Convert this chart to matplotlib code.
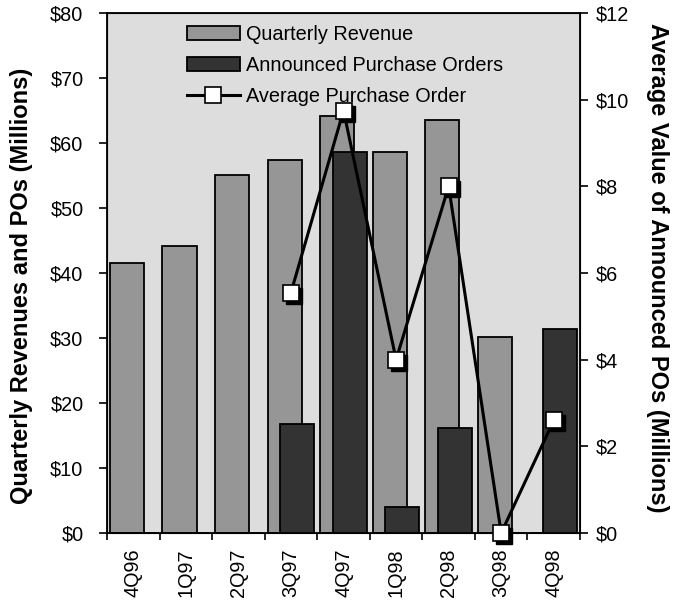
import matplotlib.pyplot as plt
import matplotlib.transforms as mtransforms
from matplotlib.ticker import FuncFormatter, FixedLocator, NullFormatter
import numpy as np

plt.rcParams['font.family'] = ['Liberation Sans', 'DejaVu Sans']

quarters = ['4Q96', '1Q97', '2Q97', '3Q97', '4Q97', '1Q98', '2Q98', '3Q98', '4Q98']
revenue = [41.5, 44.2, 55.1, 57.4, 64.2, 58.6, 63.5, 30.2, 0]
orders = [0, 0, 0, 16.8, 58.6, 4.0, 16.1, 0, 31.4]
avg_po_quarters = ['3Q97', '4Q97', '1Q98', '2Q98', '3Q98', '4Q98']
avg_po = [5.55, 9.75, 4.0, 8.0, 0.0, 2.6]

x = np.arange(len(quarters))
xa = np.array([quarters.index(q) for q in avg_po_quarters])

fig = plt.figure(figsize=(6.8, 6.02), dpi=100)
ax = fig.add_axes([0.1574, 0.1146, 0.6956, 0.8638])
ax.set_facecolor('#dddddd')

bw = 0.65
ax.bar(x - 0.12, revenue, bw, color='#969696', edgecolor='black', linewidth=1.3,
       label='Quarterly Revenue', zorder=2)
ax.bar(x + 0.12, orders, bw, color='#333333', edgecolor='black', linewidth=1.3,
       label='Announced Purchase Orders', zorder=3)
ax.set_xlim(-0.5, len(quarters) - 0.5)
ax.set_ylim(0, 80)
ax.set_yticks(range(0, 81, 10))
ax.yaxis.set_major_formatter(FuncFormatter(lambda v, p: f'${v:.0f}'))
ax.set_xticks(np.arange(-0.5, len(quarters), 1.0))
ax.xaxis.set_major_formatter(NullFormatter())
ax.xaxis.set_minor_locator(FixedLocator(x))
ax.set_xticklabels(quarters, minor=True, rotation=90)
ax.tick_params(axis='x', which='minor', length=0, labelsize=14.3, pad=11)
ax.tick_params(axis='x', which='major', direction='out', length=5, width=1.2)
ax.tick_params(axis='y', direction='out', length=6, width=1.2, labelsize=14.3, pad=11)
ax.set_ylabel('Quarterly Revenues and POs (Millions)', fontsize=17, fontweight='bold')
ax.yaxis.set_label_coords(-0.156, 0.475)
for s in ax.spines.values():
    s.set_linewidth(1.3)

ax2 = ax.twinx()
ax2.set_ylim(0, 12)
ax2.set_yticks(range(0, 13, 2))
ax2.yaxis.set_major_formatter(FuncFormatter(lambda v, p: f'${v:.0f}'))
ax2.tick_params(axis='y', direction='out', length=6, width=1.2, labelsize=14.3, pad=5)
ax2.set_ylabel('Average Value of Announced POs (Millions)', fontsize=17, fontweight='bold',
               rotation=270, va='center')
ax2.yaxis.set_label_coords(1.163, 0.511)

# shadow squares behind the white markers
shadow = mtransforms.offset_copy(ax2.transData, fig=fig, x=3, y=-3, units='dots')
ax2.plot(xa, avg_po, linestyle='none', marker='s', markersize=11.5, color='black',
         transform=shadow, zorder=4, clip_on=False)
ax2.plot(xa, avg_po, color='black', linewidth=2.2, marker='s', markersize=11.5,
         markerfacecolor='white', markeredgecolor='black', markeredgewidth=1.2,
         label='Average Purchase Order', zorder=5, clip_on=False)

h1, l1 = ax.get_legend_handles_labels()
h2, l2 = ax2.get_legend_handles_labels()
leg = ax2.legend(h1 + h2, l1 + l2, loc='upper left', bbox_to_anchor=(0.169, 0.977),
                 frameon=False, fontsize=14.3, handlelength=2.65, handleheight=0.65,
                 labelspacing=0.6, handletextpad=0.3, borderaxespad=0, borderpad=0)

fig.savefig('out.png', dpi=100)
